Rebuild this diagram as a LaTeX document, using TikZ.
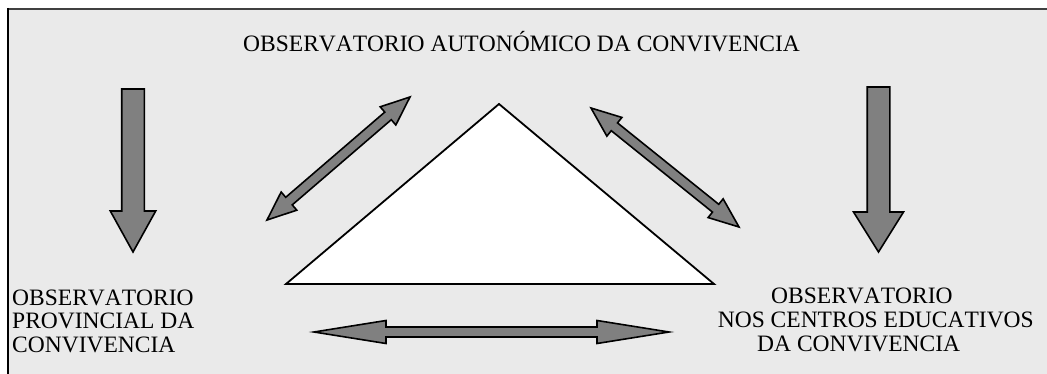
\documentclass[tikz,border=0pt]{standalone}
\usepackage{fontspec}
\setmainfont[Kerning=Off]{Liberation Serif}
\definecolor{bg}{HTML}{EAEAEA}
\definecolor{arrfill}{HTML}{808080}
\definecolor{topline}{HTML}{404040}
\tikzset{
  blk/.style={draw=black, line width=1.6pt, fill=arrfill, line join=miter},
  lbl/.style={inner sep=0pt, anchor=base west, font=\fontsize{23.5}{24}\selectfont},
}
% double block arrow: #1,#2 start; #3,#4 end; #5 shaft half; #6 head half; #7 head length
\newcommand\myDblArr[7]{%
  \pgfmathsetmacro\myDX{#3-#1}%
  \pgfmathsetmacro\myDY{#4-#2}%
  \pgfmathsetmacro\myAng{atan2(\myDY,\myDX)}%
  \pgfmathsetmacro\myLen{veclen(\myDX,\myDY)}%
  \begin{scope}[shift={(#1,#2)},rotate=\myAng]
    \draw[blk] (0,0) -- (#7,#6) -- (#7,#5) -- (\myLen-#7,#5) -- (\myLen-#7,#6) -- (\myLen,0)
      -- (\myLen-#7,-#6) -- (\myLen-#7,-#5) -- (#7,-#5) -- (#7,-#6) -- cycle;
  \end{scope}}
% single block arrow
\newcommand\mySglArr[7]{%
  \pgfmathsetmacro\myDX{#3-#1}%
  \pgfmathsetmacro\myDY{#4-#2}%
  \pgfmathsetmacro\myAng{atan2(\myDY,\myDX)}%
  \pgfmathsetmacro\myLen{veclen(\myDX,\myDY)}%
  \begin{scope}[shift={(#1,#2)},rotate=\myAng]
    \draw[blk] (0,#5) -- (\myLen-#7,#5) -- (\myLen-#7,#6) -- (\myLen,0)
      -- (\myLen-#7,-#6) -- (\myLen-#7,-#5) -- (0,-#5) -- cycle;
  \end{scope}}
\begin{document}
\begin{tikzpicture}[x=1pt,y=1pt]
  \useasboundingbox (0,0) rectangle (1047,-374);
  \fill[white] (0,0) rectangle (1047,-374);
  \fill[bg] (8,-9) rectangle (1047,-374);
  \draw[topline, line width=2.2pt] (8,-9) -- (1047,-9);
  \draw[black, line width=1.3pt] (8,-8) -- (8,-374);

  % triangle
  \coordinate (apex) at (499,-104);
  \coordinate (bl) at (286,-284);
  \coordinate (br) at (714,-284);
  \draw[fill=white, line width=1.8pt, line join=miter] (apex) -- (br) -- (bl) -- cycle;

  % vertical arrows
  \mySglArr{133}{-89}{133}{-252}{11.3}{22.7}{41}
  \mySglArr{878.5}{-87}{878.5}{-252}{11.3}{25}{40}

  % diagonal double arrows
  \myDblArr{267}{-220}{410}{-97}{5}{12}{29}
  \myDblArr{591}{-108}{739}{-227}{5}{12}{30}
  % horizontal double arrow
  \myDblArr{314}{-332}{669}{-332}{5}{11.5}{72}

  % texts
  \node[lbl] (top) at (243,-52) {OBSERVATORIO AUTONÓMICO DA CONVIVENCIA};
  \node[lbl] (l1) at (12,-305) {OBSERVATORIO};
  \node[lbl] (l2) at (12,-328.5) {PROVINCIAL DA};
  \node[lbl] (l3) at (12,-352) {CONVIVENCIA};
  \node[lbl] (r1) at (771,-303) {OBSERVATORIO};
  \node[lbl, anchor=base east] (r2) at (1034,-327) {NOS CENTROS EDUCATIVOS};
  \node[lbl] (r3) at (757,-351) {DA CONVIVENCIA};
\end{tikzpicture}
\end{document}
